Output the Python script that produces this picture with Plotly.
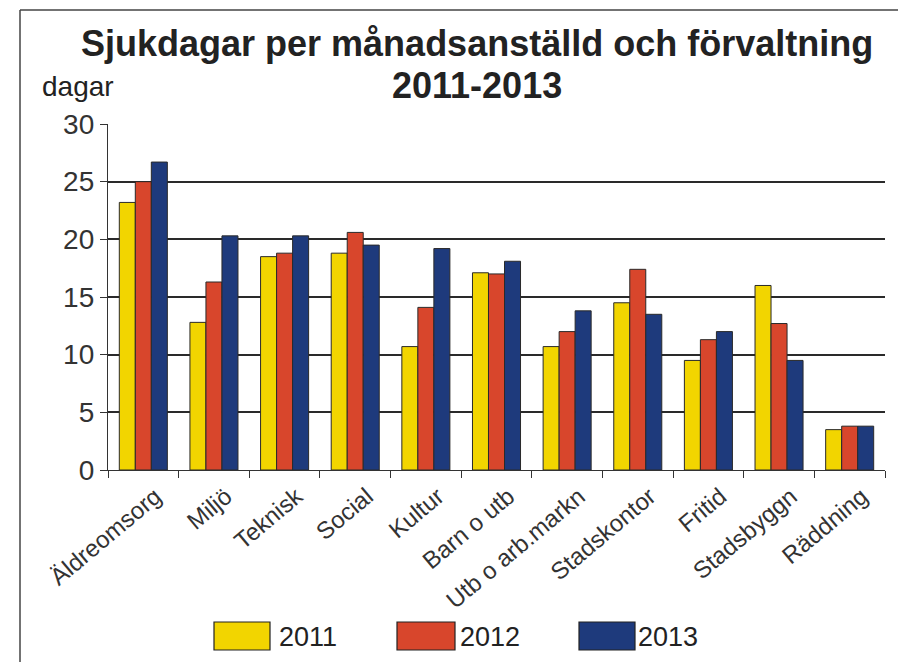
import plotly.graph_objects as go

categories = ["Äldreomsorg", "Miljö", "Teknisk", "Social", "Kultur", "Barn o utb",
              "Utb o arb.markn", "Stadskontor", "Fritid", "Stadsbyggn", "Räddning"]
years = ["2011", "2012", "2013"]
v2011 = [23.2, 12.8, 18.5, 18.8, 10.7, 17.1, 10.7, 14.5, 9.5, 16.0, 3.5]
v2012 = [25.0, 16.3, 18.8, 20.6, 14.1, 17.0, 12.0, 17.4, 11.3, 12.7, 3.8]
v2013 = [26.7, 20.3, 20.3, 19.5, 19.2, 18.1, 13.8, 13.5, 12.0, 9.5, 3.8]
colors = ["#F2D500", "#D8462C", "#1E3A7C"]
series = [v2011, v2012, v2013]

W, H = 898, 662
L, R, T, B = 108, 885, 124, 470


def px(x):
    return (x - L) / (R - L)


def py(y):
    return (B - y) / (B - T)


fig = go.Figure()
for name, vals, col in zip(years, series, colors):
    fig.add_trace(go.Bar(
        x=categories, y=vals, name=name,
        marker=dict(color=col, line=dict(color="#2a2a2a", width=1)),
        showlegend=False,
    ))

fig.update_layout(
    width=W, height=H,
    margin=dict(l=L, r=W - R, t=T, b=H - B, autoexpand=False),
    paper_bgcolor="white", plot_bgcolor="white",
    barmode="group", bargap=0.32, bargroupgap=0.0,
    font=dict(family="Liberation Sans, Arial, sans-serif", color="#222"),
)
fig.update_yaxes(
    range=[0, 30], dtick=5, showgrid=True, gridcolor="#2a2a2a", gridwidth=1.5,
    showline=True, linecolor="#333", linewidth=1.3,
    ticks="outside", ticklen=7, tickcolor="#333",
    tickfont=dict(size=28, color="#333"), zeroline=False,
)
fig.update_xaxes(
    type="category", tickson="boundaries", ticks="outside", ticklen=7,
    tickcolor="#333", showline=True, linecolor="#333", linewidth=1.3,
    tickangle=-40, tickfont=dict(size=24, color="#333"), showgrid=False,
    ticklabelshift=12, ticklabelstandoff=2,
)

annotations = [
    dict(text="<b>Sjukdagar per månadsanställd och förvaltning</b>", x=px(477), y=py(44),
         font=dict(size=36, color="#222")),
    dict(text="<b>2011-2013</b>", x=px(477), y=py(85), font=dict(size=36, color="#222")),
    dict(text="dagar", x=px(40), y=py(86), xanchor="left", font=dict(size=28, color="#222")),
]
shapes = [
    dict(type="line", xref="paper", yref="paper", x0=px(20), x1=px(898), y0=py(10), y1=py(10),
         line=dict(color="#444", width=1.5)),
    dict(type="line", xref="paper", yref="paper", x0=px(20), x1=px(20), y0=py(10), y1=py(662),
         line=dict(color="#444", width=1.5)),
]
leg_x = [(214, 270, 277), (397, 455, 458), (579, 635, 636)]
for (x0, x1, xt), name, col in zip(leg_x, years, colors):
    shapes.append(dict(type="rect", xref="paper", yref="paper", x0=px(x0), x1=px(x1),
                       y0=py(650), y1=py(622), fillcolor=col,
                       line=dict(color="#222", width=1.2)))
    annotations.append(dict(text=name, x=px(xt), y=py(637), xanchor="left",
                            font=dict(size=27, color="#222")))

for a in annotations:
    a.update(xref="paper", yref="paper", showarrow=False)
    a.setdefault("xanchor", "center")
    a.setdefault("yanchor", "middle")
fig.update_layout(annotations=annotations, shapes=shapes)

fig.write_html("out.html", config={"displayModeBar": False},
               post_script="document.body.style.margin='0';")
